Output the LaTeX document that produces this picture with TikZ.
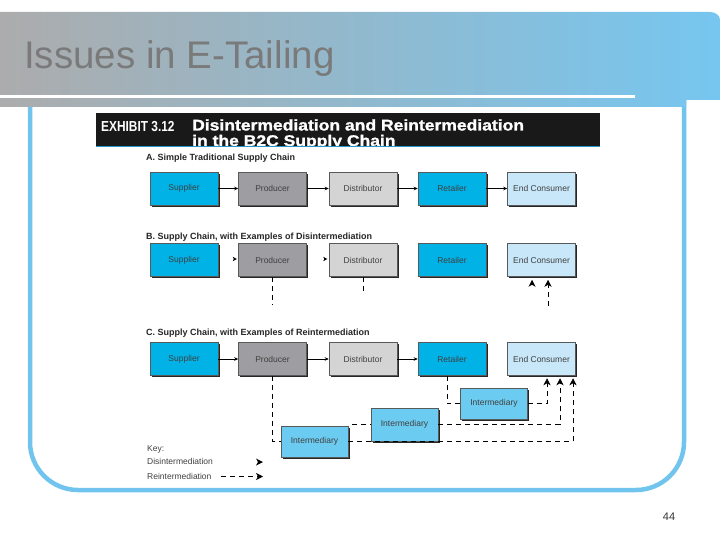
\documentclass[tikz,border=0pt]{standalone}
\usepackage{fontspec}
\setmainfont{Liberation Sans}
\newfontfamily\heavyfont{Liberation Sans Bold}[FakeBold=1.2]
\usetikzlibrary{arrows.meta,shadows,calc}

\definecolor{cyanbox}{RGB}{0,178,230}
\definecolor{prodgray}{RGB}{158,158,162}
\definecolor{distgray}{RGB}{212,212,212}
\definecolor{endblue}{RGB}{200,232,250}
\definecolor{interblue}{RGB}{108,203,240}
\definecolor{framebl}{RGB}{112,196,238}
\definecolor{bangray}{RGB}{172,172,172}
\definecolor{banmid}{RGB}{160,188,208}
\definecolor{banblue}{RGB}{118,198,240}
\definecolor{titlegray}{RGB}{122,122,122}
\definecolor{exblue}{RGB}{40,150,200}

\begin{document}
\begin{tikzpicture}[x=1pt,y=-1pt,
  box/.style={draw=black!65, line width=0.5pt, minimum width=68pt, minimum height=33pt,
    inner sep=0pt, font=\fontsize{8.5}{10}\selectfont, text=black!75,
    drop shadow={shadow xshift=1.6pt, shadow yshift=-1.6pt, fill=black!85, opacity=1}},
  ibox/.style={box, fill=interblue, minimum height=31pt, minimum width=67pt},
  seclabel/.style={anchor=base west, inner sep=0pt, font=\bfseries\fontsize{9}{11}\selectfont, text=black!85},
  keytext/.style={anchor=base west, inner sep=0pt, font=\fontsize{8.5}{10}\selectfont, text=black!75},
  solidarrow/.style={line width=0.6pt, -{Stealth[length=4pt,width=3.5pt]}},
  dashline/.style={line width=0.7pt, dash pattern=on 5pt off 4pt},
  reint/.style={dashline, -{Stealth[length=7pt,width=7pt,inset=2pt]}},
  upstealth/.pic={\fill (0,0) -- (3.5,7) -- (0,5) -- (-3.5,7) -- cycle;},
  rightstealth/.pic={\fill (0,0) -- (-7,-3.5) -- (-5,0) -- (-7,3.5) -- cycle;},
  smallright/.pic={\fill (0,0) -- (-4,-2.2) -- (-3,0) -- (-4,2.2) -- cycle;}
]
\useasboundingbox (0,0) rectangle (720,540);
\fill[white] (0,0) rectangle (720,540);

% frame
\draw[framebl, line width=4.5pt, rounded corners=48pt] (30,95) -- (30,490) -- (684,490) -- (684,95);

% banner
\shade[left color=bangray, middle color=banmid, right color=banblue]
  (0,12) -- (710,12) to[out=0,in=90] (720,20) -- (720,100) -- (686,100) -- (686,107) -- (0,107) -- cycle;
\fill[white] (0,95) rectangle (635,98.5);
\node[anchor=base west, inner sep=0pt, text=titlegray, font=\fontsize{38.5}{42}\selectfont] (title) at (24,68.5) {Issues in E-Tailing};

% exhibit header
\fill[black!90] (96,113) rectangle (600,147);
\begin{scope}
\clip (96,113) rectangle (600,147);
\node[anchor=base west, inner sep=0pt, text=white, font=\bfseries\fontsize{14.5}{16}\selectfont] (exh) at (101,131.5) {\scalebox{0.82}[1]{EXHIBIT 3.12}};
\node[anchor=base west, inner sep=0pt, text=white, font=\heavyfont\fontsize{15.5}{17}\selectfont] (ttl1) at (192,130.5) {\scalebox{1.13}[1]{Disintermediation and Reintermediation}};
\node[anchor=base west, inner sep=0pt, text=white, font=\heavyfont\fontsize{15.5}{17}\selectfont] (ttl2) at (192,146) {\scalebox{1.13}[1]{in the B2C Supply Chain}};
\end{scope}
\draw[exblue, line width=1pt] (96,147) -- (600,147);

% section A
\node[seclabel] (labA) at (146,161) {A. Simple Traditional Supply Chain};
\node[box, fill=cyanbox]  (supA) at (184,188.5) {Supplier};
\node[box, fill=prodgray] (proA) at (272.5,188.5) {Producer};
\node[box, fill=distgray] (disA) at (363,188.5) {Distributor};
\node[box, fill=cyanbox]  (retA) at (452,188.5) {Retailer};
\node[box, fill=endblue]  (endA) at (541.5,188.5) {End Consumer};
\draw[solidarrow] (supA) -- (proA);
\draw[solidarrow] (proA) -- (disA);
\draw[solidarrow] (disA) -- (retA);
\draw[solidarrow] (retA) -- (endA);

% section B
\node[seclabel] (labB) at (146,240) {B. Supply Chain, with Examples of Disintermediation};
\node[box, fill=cyanbox]  (supB) at (184,260) {Supplier};
\node[box, fill=prodgray] (proB) at (272.5,260) {Producer};
\node[box, fill=distgray] (disB) at (363,260) {Distributor};
\node[box, fill=cyanbox]  (retB) at (452,260) {Retailer};
\node[box, fill=endblue]  (endB) at (541.5,260) {End Consumer};
\pic at ($(proB.west)+(-1.5,-1)$) {smallright};
\pic at ($(disB.west)+(-1.5,-1)$) {smallright};
\coordinate (pB) at (272.5,305);
\coordinate (dB) at (363,293);
\coordinate (eB) at (548,306);
\draw[dashline] (proB.south) -- (pB);
\draw[dashline] (disB.south) -- (dB);
\pic at ($(endB.south)+(-9.5,3)$) {upstealth};
\draw[reint] (eB) -- ($(endB.south)+(6.5,3)$);

% section C
\node[seclabel] (labC) at (146,335) {C. Supply Chain, with Examples of Reintermediation};
\node[box, fill=cyanbox]  (supC) at (184,359) {Supplier};
\node[box, fill=prodgray] (proC) at (272.5,359) {Producer};
\node[box, fill=distgray] (disC) at (363,359) {Distributor};
\node[box, fill=cyanbox]  (retC) at (452,359) {Retailer};
\node[box, fill=endblue]  (endC) at (541.5,359) {End Consumer};
\draw[solidarrow] (supC) -- (proC);
\draw[solidarrow] (proC) -- (disC);
\draw[solidarrow] (disC) -- (retC);

\node[ibox] (int3) at (494,403.5) {Intermediary};
\node[ibox, minimum height=33pt] (int2) at (404.5,424.5) {Intermediary};
\node[ibox] (int1) at (314.5,441.5) {Intermediary};

\draw[dashline] (proC.south) |- (int1.west);
\draw[reint] (int1.east) -| ($(endC.south)+(31.5,2.5)$);
\coordinate (stub) at (352,424.5);
\draw[dashline] (stub) -- (int2.west);
\draw[reint] (int2.east) -| ($(endC.south)+(18.5,2.5)$);
\draw[dashline] ($(retC.south)+(-5,0)$) |- (int3.west);
\draw[reint] (int3.east) -| ($(endC.south)+(5.5,2.5)$);

% key
\node[keytext] (keyl) at (147,451) {Key:};
\node[keytext] (dkey) at (147,464) {Disintermediation};
\node[keytext] (rkey) at (147,479) {Reintermediation};
\pic at (263,462) {rightstealth};
\coordinate (rk1) at (221,476.5);
\coordinate (rk2) at (263,476.5);
\draw[reint] (rk1) -- (rk2);

% page number
\node[text=black!80, font=\fontsize{11}{13}\selectfont] (pnum) at (669,517) {44};
\end{tikzpicture}
\end{document}
